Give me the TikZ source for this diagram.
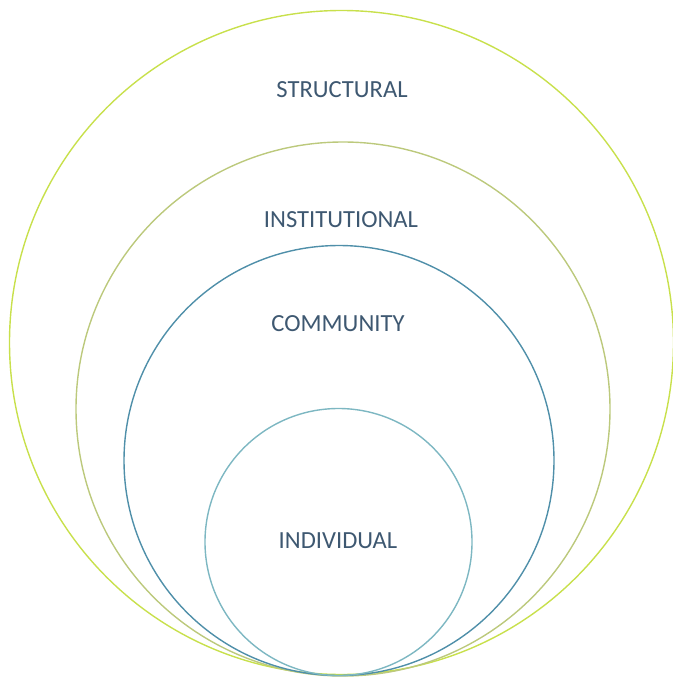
\documentclass[tikz,border=0pt]{standalone}
\usepackage{fontspec}
\setmainfont{Carlito}
\definecolor{txt}{HTML}{3E5871}
\definecolor{c1}{HTML}{C8E04C}
\definecolor{c2}{HTML}{BCC97C}
\definecolor{c3}{HTML}{4F8FA9}
\definecolor{c4}{HTML}{7DB7C2}
\tikzset{ring/.style={line width=1.4pt},
  lbl/.style={text=txt,font=\fontsize{24.6}{28}\selectfont,inner sep=0pt}}
\begin{document}
\begin{tikzpicture}[x=1pt,y=-1pt]
\useasboundingbox (0,0) rectangle (672,677);
\draw[ring,c1] (341.5,342.5) circle (332);
\draw[ring,c2] (343,409) circle (267);
\draw[ring,c3] (339,460.5) circle (215);
\draw[ring,c4] (338.5,542) circle (133.5);
\node[lbl] (s) at (342,90) {STRUCTURAL};
\node[lbl] (i) at (341,220) {INSTITUTIONAL};
\node[lbl] (c) at (338,324) {COMMUNITY};
\node[lbl] (d) at (338,541) {INDIVIDUAL};
\end{tikzpicture}
\end{document}
